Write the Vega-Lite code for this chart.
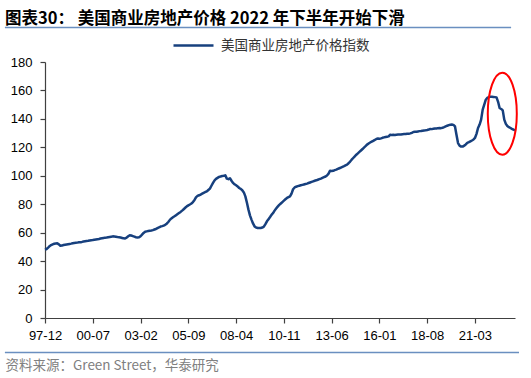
{
"$schema": "https://vega.github.io/schema/vega-lite/v6.json",
"width": 470, "height": 291,
"autosize": "none",
"padding": {"left": 45, "top": 27, "right": 16, "bottom": 60},
"background": "white",
"title": {"text": "图表30：  美国商业房地产价格 2022 年下半年开始下滑", "anchor": "start", "frame": "group", "dx": -40, "offset": -3, "font": "Noto Sans CJK SC", "fontSize": 16.5, "fontWeight": "bold", "color": "#000000"},
"config": {"view": {"stroke": null}, "axisY": {"labelOverlap": false, "labelFlush": false, "labelBound": false, "grid": false, "tickCount": 20}, "axisX": {"labelOverlap": false, "labelFlush": false, "grid": false, "tickCount": 20}},
"layer": [
{
"data": {"values": [{"sep": "top"}]},
"mark": {"type": "rule", "stroke": "#6a8fc0", "strokeWidth": 1.5, "opacity": 1},
"encoding": {"x": {"datum": {"year":1995,"month":10,"date":1}, "type": "temporal"}, "x2": {"datum": {"year":2023,"month":2,"date":13}}, "y": {"datum": 204.3, "type": "quantitative"}, "y2": {"datum": 204.3}}
},
{
"data": {"values": [{"sep": "bottom"}]},
"mark": {"type": "rule", "stroke": "#6a8fc0", "strokeWidth": 1.5, "opacity": 1},
"encoding": {"x": {"datum": {"year":1995,"month":10,"date":1}, "type": "temporal"}, "x2": {"datum": {"year":2023,"month":7,"date":19}}, "y": {"datum": -24.26, "type": "quantitative"}, "y2": {"datum": -24.26}}
},
{
"data": {"format": {"parse": {"d": "date:'%Y-%m'"}}, "values": [
{"d":"1997-12","v":48.0},
{"d":"1998-01","v":48.5},{"d":"1998-02","v":49.5},{"d":"1998-03","v":50.5},{"d":"1998-04","v":51.3},{"d":"1998-05","v":51.8},{"d":"1998-06","v":52.2},{"d":"1998-07","v":52.4},{"d":"1998-08","v":52.5},{"d":"1998-09","v":51.8},{"d":"1998-10","v":50.8},{"d":"1998-11","v":50.9},{"d":"1998-12","v":51.3},
{"d":"1999-01","v":51.5},{"d":"1999-02","v":51.7},{"d":"1999-03","v":51.9},{"d":"1999-04","v":52.1},{"d":"1999-05","v":52.3},{"d":"1999-06","v":52.6},{"d":"1999-07","v":52.8},{"d":"1999-08","v":52.9},{"d":"1999-09","v":53.0},{"d":"1999-10","v":53.2},{"d":"1999-11","v":53.3},{"d":"1999-12","v":53.5},
{"d":"2000-01","v":53.8},{"d":"2000-02","v":54.0},{"d":"2000-03","v":54.2},{"d":"2000-04","v":54.3},{"d":"2000-05","v":54.5},{"d":"2000-06","v":54.7},{"d":"2000-07","v":54.8},{"d":"2000-08","v":55.0},{"d":"2000-09","v":55.2},{"d":"2000-10","v":55.4},{"d":"2000-11","v":55.6},{"d":"2000-12","v":55.9},
{"d":"2001-01","v":56.1},{"d":"2001-02","v":56.3},{"d":"2001-03","v":56.5},{"d":"2001-04","v":56.6},{"d":"2001-05","v":56.8},{"d":"2001-06","v":57.0},{"d":"2001-07","v":57.2},{"d":"2001-08","v":57.4},{"d":"2001-09","v":57.3},{"d":"2001-10","v":57.1},{"d":"2001-11","v":56.9},{"d":"2001-12","v":56.8},
{"d":"2002-01","v":56.6},{"d":"2002-02","v":56.3},{"d":"2002-03","v":56.0},{"d":"2002-04","v":55.9},{"d":"2002-05","v":56.5},{"d":"2002-06","v":57.5},{"d":"2002-07","v":58.1},{"d":"2002-08","v":58.0},{"d":"2002-09","v":57.6},{"d":"2002-10","v":57.2},{"d":"2002-11","v":56.8},{"d":"2002-12","v":56.6},
{"d":"2003-01","v":56.7},{"d":"2003-02","v":57.5},{"d":"2003-03","v":58.6},{"d":"2003-04","v":59.8},{"d":"2003-05","v":60.6},{"d":"2003-06","v":60.9},{"d":"2003-07","v":61.1},{"d":"2003-08","v":61.3},{"d":"2003-09","v":61.5},{"d":"2003-10","v":61.8},{"d":"2003-11","v":62.2},{"d":"2003-12","v":62.6},
{"d":"2004-01","v":63.2},{"d":"2004-02","v":63.8},{"d":"2004-03","v":64.3},{"d":"2004-04","v":64.6},{"d":"2004-05","v":65.0},{"d":"2004-06","v":65.5},{"d":"2004-07","v":66.3},{"d":"2004-08","v":67.5},{"d":"2004-09","v":69.0},{"d":"2004-10","v":70.0},{"d":"2004-11","v":70.8},{"d":"2004-12","v":71.5},
{"d":"2005-01","v":72.3},{"d":"2005-02","v":73.1},{"d":"2005-03","v":73.8},{"d":"2005-04","v":74.6},{"d":"2005-05","v":75.5},{"d":"2005-06","v":76.5},{"d":"2005-07","v":77.5},{"d":"2005-08","v":78.5},{"d":"2005-09","v":79.2},{"d":"2005-10","v":79.8},{"d":"2005-11","v":80.5},{"d":"2005-12","v":81.5},
{"d":"2006-01","v":83.0},{"d":"2006-02","v":85.0},{"d":"2006-03","v":85.8},{"d":"2006-04","v":86.3},{"d":"2006-05","v":86.8},{"d":"2006-06","v":87.4},{"d":"2006-07","v":88.0},{"d":"2006-08","v":88.6},{"d":"2006-09","v":89.0},{"d":"2006-10","v":90.0},{"d":"2006-11","v":91.0},{"d":"2006-12","v":93.0},
{"d":"2007-01","v":95.0},{"d":"2007-02","v":96.8},{"d":"2007-03","v":97.8},{"d":"2007-04","v":98.5},{"d":"2007-05","v":99.2},{"d":"2007-06","v":99.5},{"d":"2007-07","v":99.8},{"d":"2007-08","v":100.0},{"d":"2007-09","v":100.3},{"d":"2007-10","v":98.0},{"d":"2007-11","v":97.6},{"d":"2007-12","v":98.3},
{"d":"2008-01","v":96.5},{"d":"2008-02","v":95.0},{"d":"2008-03","v":94.0},{"d":"2008-04","v":93.3},{"d":"2008-05","v":92.5},{"d":"2008-06","v":91.4},{"d":"2008-07","v":90.8},{"d":"2008-08","v":89.8},{"d":"2008-09","v":88.3},{"d":"2008-10","v":85.5},{"d":"2008-11","v":81.0},{"d":"2008-12","v":76.2},
{"d":"2009-01","v":72.0},{"d":"2009-02","v":69.0},{"d":"2009-03","v":66.5},{"d":"2009-04","v":64.4},{"d":"2009-05","v":63.6},{"d":"2009-06","v":63.3},{"d":"2009-07","v":63.2},{"d":"2009-08","v":63.3},{"d":"2009-09","v":63.6},{"d":"2009-10","v":64.2},{"d":"2009-11","v":66.0},{"d":"2009-12","v":68.0},
{"d":"2010-01","v":69.5},{"d":"2010-02","v":71.0},{"d":"2010-03","v":72.5},{"d":"2010-04","v":73.8},{"d":"2010-05","v":75.5},{"d":"2010-06","v":77.0},{"d":"2010-07","v":78.3},{"d":"2010-08","v":79.5},{"d":"2010-09","v":80.5},{"d":"2010-10","v":81.5},{"d":"2010-11","v":82.5},{"d":"2010-12","v":83.5},
{"d":"2011-01","v":84.4},{"d":"2011-02","v":85.0},{"d":"2011-03","v":85.5},{"d":"2011-04","v":87.5},{"d":"2011-05","v":90.5},{"d":"2011-06","v":91.8},{"d":"2011-07","v":92.3},{"d":"2011-08","v":92.7},{"d":"2011-09","v":93.0},{"d":"2011-10","v":93.3},{"d":"2011-11","v":93.6},{"d":"2011-12","v":93.9},
{"d":"2012-01","v":94.2},{"d":"2012-02","v":94.5},{"d":"2012-03","v":94.9},{"d":"2012-04","v":95.3},{"d":"2012-05","v":95.7},{"d":"2012-06","v":96.1},{"d":"2012-07","v":96.5},{"d":"2012-08","v":96.8},{"d":"2012-09","v":97.2},{"d":"2012-10","v":97.6},{"d":"2012-11","v":98.0},{"d":"2012-12","v":98.5},
{"d":"2013-01","v":99.0},{"d":"2013-02","v":99.5},{"d":"2013-03","v":100.2},{"d":"2013-04","v":101.5},{"d":"2013-05","v":103.6},{"d":"2013-06","v":103.3},{"d":"2013-07","v":103.5},{"d":"2013-08","v":104.0},{"d":"2013-09","v":104.3},{"d":"2013-10","v":104.8},{"d":"2013-11","v":105.3},{"d":"2013-12","v":105.8},
{"d":"2014-01","v":106.3},{"d":"2014-02","v":106.8},{"d":"2014-03","v":107.3},{"d":"2014-04","v":107.8},{"d":"2014-05","v":108.8},{"d":"2014-06","v":110.0},{"d":"2014-07","v":111.3},{"d":"2014-08","v":112.5},{"d":"2014-09","v":113.7},{"d":"2014-10","v":114.8},{"d":"2014-11","v":115.8},{"d":"2014-12","v":116.8},
{"d":"2015-01","v":117.8},{"d":"2015-02","v":118.8},{"d":"2015-03","v":119.8},{"d":"2015-04","v":120.8},{"d":"2015-05","v":121.9},{"d":"2015-06","v":122.7},{"d":"2015-07","v":123.4},{"d":"2015-08","v":124.0},{"d":"2015-09","v":124.6},{"d":"2015-10","v":125.2},{"d":"2015-11","v":125.9},{"d":"2015-12","v":126.2},
{"d":"2016-01","v":126.0},{"d":"2016-02","v":126.3},{"d":"2016-03","v":126.7},{"d":"2016-04","v":127.0},{"d":"2016-05","v":127.3},{"d":"2016-06","v":127.5},{"d":"2016-07","v":127.7},{"d":"2016-08","v":128.9},{"d":"2016-09","v":128.6},{"d":"2016-10","v":128.8},{"d":"2016-11","v":128.7},{"d":"2016-12","v":128.9},
{"d":"2017-01","v":129.0},{"d":"2017-02","v":129.1},{"d":"2017-03","v":129.0},{"d":"2017-04","v":129.2},{"d":"2017-05","v":129.3},{"d":"2017-06","v":129.4},{"d":"2017-07","v":129.6},{"d":"2017-08","v":129.5},{"d":"2017-09","v":129.8},{"d":"2017-10","v":130.2},{"d":"2017-11","v":130.8},{"d":"2017-12","v":130.9},
{"d":"2018-01","v":131.0},{"d":"2018-02","v":131.2},{"d":"2018-03","v":131.4},{"d":"2018-04","v":131.5},{"d":"2018-05","v":131.7},{"d":"2018-06","v":131.9},{"d":"2018-07","v":132.0},{"d":"2018-08","v":132.2},{"d":"2018-09","v":132.5},{"d":"2018-10","v":132.9},{"d":"2018-11","v":132.8},{"d":"2018-12","v":133.0},
{"d":"2019-01","v":133.2},{"d":"2019-02","v":133.3},{"d":"2019-03","v":133.5},{"d":"2019-04","v":133.6},{"d":"2019-05","v":133.5},{"d":"2019-06","v":133.8},{"d":"2019-07","v":134.2},{"d":"2019-08","v":134.7},{"d":"2019-09","v":135.2},{"d":"2019-10","v":135.6},{"d":"2019-11","v":135.9},{"d":"2019-12","v":136.0},
{"d":"2020-01","v":135.8},{"d":"2020-02","v":134.7},{"d":"2020-03","v":128.9},{"d":"2020-04","v":123.0},{"d":"2020-05","v":121.2},{"d":"2020-06","v":120.5},{"d":"2020-07","v":120.5},{"d":"2020-08","v":121.2},{"d":"2020-09","v":122.0},{"d":"2020-10","v":123.1},{"d":"2020-11","v":123.6},{"d":"2020-12","v":124.2},
{"d":"2021-01","v":124.8},{"d":"2021-02","v":125.5},{"d":"2021-03","v":126.6},{"d":"2021-04","v":129.5},{"d":"2021-05","v":133.6},{"d":"2021-06","v":136.0},{"d":"2021-07","v":139.5},{"d":"2021-08","v":146.5},{"d":"2021-09","v":150.0},{"d":"2021-10","v":153.5},{"d":"2021-11","v":154.8},{"d":"2021-12","v":155.4},
{"d":"2022-01","v":155.5},{"d":"2022-02","v":155.5},{"d":"2022-03","v":155.4},{"d":"2022-04","v":155.3},{"d":"2022-05","v":155.1},{"d":"2022-06","v":152.0},{"d":"2022-07","v":147.7},{"d":"2022-08","v":147.0},{"d":"2022-09","v":146.0},{"d":"2022-10","v":139.5},{"d":"2022-11","v":136.5},{"d":"2022-12","v":135.0},
{"d":"2023-01","v":134.2},{"d":"2023-02","v":133.6},{"d":"2023-03","v":133.0},{"d":"2023-04","v":132.4},{"d":"2023-05","v":132.0}
]},
"mark": {"type": "line", "strokeWidth": 2.5, "strokeJoin": "round"},
"encoding": {
"x": {"field": "d", "type": "temporal",
"scale": {"domain": [{"year":1997,"month":12,"date":1},{"year":2023,"month":5,"date":1}]},
"axis": {"values": [{"year":1997,"month":12,"date":1},{"year":2000,"month":7,"date":1},{"year":2003,"month":2,"date":1},{"year":2005,"month":9,"date":1},{"year":2008,"month":4,"date":1},{"year":2010,"month":11,"date":1},{"year":2013,"month":6,"date":1},{"year":2016,"month":1,"date":1},{"year":2018,"month":8,"date":1},{"year":2021,"month":3,"date":1}],
"tickCount": 20, "format": "%y-%m", "labelFont": "Liberation Sans", "labelFontSize": 13, "labelColor": "#000000", "labelPadding": 6,
"domainColor": "#404040", "domainWidth": 1.2, "tickColor": "#404040", "tickSize": 5, "tickWidth": 1.2,
"title": "资料来源：Green Street，华泰研究", "titleFont": "Noto Sans CJK SC", "titleFontSize": 13.5, "titleFontWeight": "normal", "titleColor": "#808080", "titleAnchor": "start", "titleAlign": "left", "titleBaseline": "middle", "titleX": -40, "titleY": 47}},
"y": {"field": "v", "type": "quantitative", "scale": {"domain": [0, 180], "nice": false, "range": [291, 35]},
"axis": {"values": [0,20,40,60,80,100,120,140,160,180], "tickCount": 20, "title": null, "labelFont": "Liberation Sans", "labelFontSize": 13, "labelColor": "#000000", "labelPadding": 8, "labelOverlap": false, "domainColor": "#404040", "domainWidth": 1.2, "tickColor": "#404040", "tickSize": 5, "tickWidth": 1.2}},
"color": {"datum": "美国商业房地产价格指数", "scale": {"range": ["#17407e"]},
"legend": {"title": null, "orient": "none", "legendX": 127, "legendY": -3, "padding": 0, "symbolType": "stroke", "symbolSize": 1600, "symbolStrokeWidth": 2.5, "labelFont": "Noto Sans CJK SC", "labelFontSize": 13.5, "labelColor": "#333333", "labelOffset": 6}}
}
},
{
"data": {"values": [{}]},
"mark": {"type": "point", "shape": "M0,-1A0.354,1,0,1,1,0,1A0.354,1,0,1,1,0,-1Z", "filled": false, "stroke": "#ff0000", "strokeWidth": 2, "opacity": 1, "size": 6724},
"encoding": {"x": {"datum": {"year":2022,"month":8,"date":23}, "type": "temporal"}, "y": {"datum": 143.7, "type": "quantitative"}}
}
]
}
